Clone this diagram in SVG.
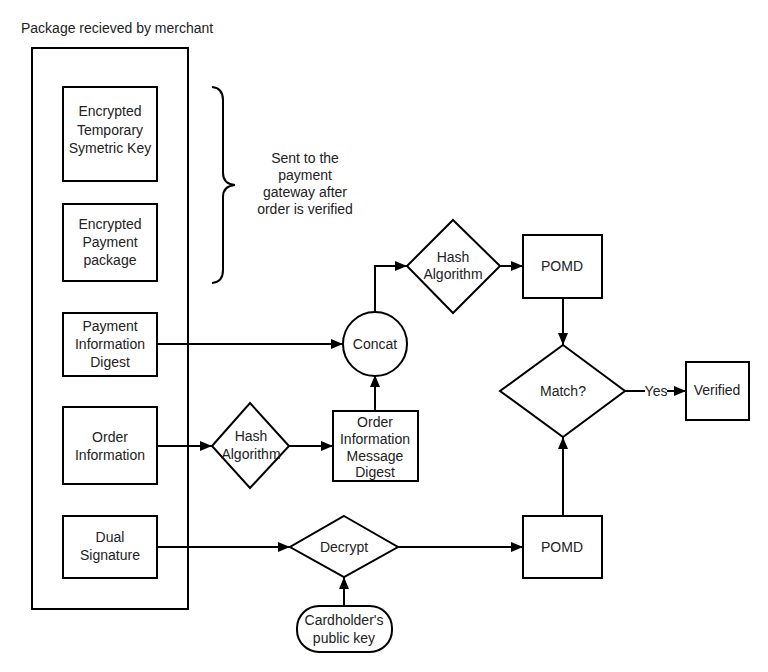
<svg xmlns="http://www.w3.org/2000/svg" width="768" height="672" viewBox="0 0 768 672">
<defs>
<style>
.n{fill:#fff;stroke:#000;stroke-width:2}
.t{font-family:"Liberation Sans",Arial,sans-serif;font-size:14px;fill:#222;text-anchor:middle}
.c{fill:none;stroke:#000;stroke-width:2}
</style>
<marker id="a" viewBox="0 0 12 10" refX="12" refY="5" markerWidth="12" markerHeight="10" markerUnits="userSpaceOnUse" orient="auto">
<path d="M0,0 L12,5 L0,10 Z" fill="#000"/>
</marker>
</defs>
<rect width="768" height="672" fill="#fff"/>
<text x="21" y="33" class="t" style="text-anchor:start">Package recieved by merchant</text>
<g id="container"><rect x="32" y="48" width="156" height="561" class="n"/></g>
<g id="enc-key"><rect x="63" y="87" width="94" height="94" class="n"/>
<text class="t" x="110" y="116">Encrypted</text><text class="t" x="110" y="135">Temporary</text><text class="t" x="110" y="153">Symetric Key</text></g>
<g id="enc-pay"><rect x="63" y="204" width="94" height="77" class="n"/>
<text class="t" x="110" y="229">Encrypted</text><text class="t" x="110" y="247">Payment</text><text class="t" x="110" y="265">package</text></g>
<g id="pid"><rect x="63" y="313" width="94" height="63" class="n"/>
<text class="t" x="110" y="331">Payment</text><text class="t" x="110" y="349">Information</text><text class="t" x="110" y="367">Digest</text></g>
<g id="oi"><rect x="63" y="407" width="94" height="77" class="n"/>
<text class="t" x="110" y="442">Order</text><text class="t" x="110" y="460">Information</text></g>
<g id="ds"><rect x="63" y="516" width="94" height="62" class="n"/>
<text class="t" x="110" y="542">Dual</text><text class="t" x="110" y="560">Signature</text></g>
<g id="brace"><path d="M212,87 Q223,88 223,100 L223,173 Q223,184 235,185 Q223,186 223,197 L223,270 Q223,282 212,283" class="c"/>
<text class="t" x="305" y="163">Sent to the</text><text class="t" x="305" y="180">payment</text><text class="t" x="305" y="197">gateway after</text><text class="t" x="305" y="214">order is verified</text></g>
<g id="connectors">
<path d="M157,344 L343,344" class="c" marker-end="url(#a)"/>
<path d="M157,446 L212,446" class="c" marker-end="url(#a)"/>
<path d="M289,446 L333,446" class="c" marker-end="url(#a)"/>
<path d="M375,411 L375,375" class="c" marker-end="url(#a)"/>
<path d="M375,312 L375,266 L407,266" class="c" marker-end="url(#a)"/>
<path d="M500,266 L523,266" class="c" marker-end="url(#a)"/>
<path d="M563,298 L563,345" class="c" marker-end="url(#a)"/>
<path d="M157,547 L290,547" class="c" marker-end="url(#a)"/>
<path d="M398,547 L523,547" class="c" marker-end="url(#a)"/>
<path d="M344,606 L344,577" class="c" marker-end="url(#a)"/>
<path d="M563,516 L563,437" class="c" marker-end="url(#a)"/>
<path d="M625,391 L645,391 M667,391 L686,391" class="c"/>
<path d="M667,391 L686,391" class="c" marker-end="url(#a)"/>
<text class="t" x="656" y="396" style="fill:#222">Yes</text>
</g>
<g id="concat"><circle cx="375" cy="344" r="32" class="n"/><text class="t" x="375" y="349">Concat</text></g>
<g id="hash1"><path d="M453,220 L500,266 L453,313 L407,266 Z" class="n"/>
<text class="t" x="453" y="262">Hash</text><text class="t" x="453" y="279">Algorithm</text></g>
<g id="pomd1"><rect x="523" y="235" width="79" height="63" class="n"/><text class="t" x="562" y="271">POMD</text></g>
<g id="hash2"><path d="M250,403 L289,446 L250,488 L212,446 Z" class="n"/>
<text class="t" x="251" y="441">Hash</text><text class="t" x="251" y="459">Algorithm</text></g>
<g id="oimd"><rect x="333" y="411" width="85" height="70" class="n"/>
<text class="t" x="375" y="427">Order</text><text class="t" x="375" y="444">Information</text><text class="t" x="375" y="461">Message</text><text class="t" x="375" y="477">Digest</text></g>
<g id="match"><path d="M563,345 L625,391 L563,437 L500,391 Z" class="n"/><text class="t" x="563" y="396">Match?</text></g>
<g id="verified"><rect x="686" y="362" width="63" height="58" class="n"/><text class="t" x="717" y="395">Verified</text></g>
<g id="decrypt"><path d="M344,516 L398,547 L344,577 L290,547 Z" class="n"/><text class="t" x="344" y="552">Decrypt</text></g>
<g id="pomd2"><rect x="523" y="516" width="79" height="62" class="n"/><text class="t" x="562" y="552">POMD</text></g>
<g id="key"><rect x="297" y="606" width="95" height="46" rx="22" class="n"/>
<text class="t" x="344" y="625">Cardholder's</text><text class="t" x="344" y="643">public key</text></g>
</svg>
